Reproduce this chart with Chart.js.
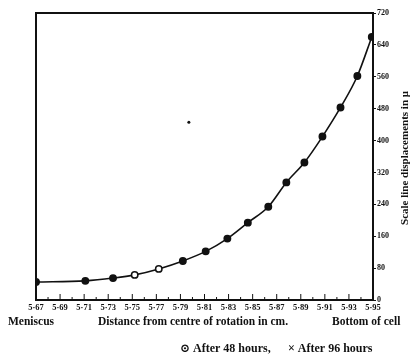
<!DOCTYPE html>
<html>
<head>
<meta charset="utf-8">
<script src="https://cdn.jsdelivr.net/npm/chart.js@4/dist/chart.umd.min.js"></script>
<style>
  html, body { margin: 0; padding: 0; background: #fff; }
  #wrap { position: relative; width: 416px; height: 355px; }
</style>
</head>
<body>
<div id="wrap"><canvas id="chart" width="416" height="355"></canvas></div>
<script>
// distance from centre of rotation (cm) and scale line displacement (microns)
const distances = [5.670, 5.711, 5.734, 5.752, 5.772, 5.792, 5.811, 5.829, 5.846, 5.863, 5.878, 5.893, 5.908, 5.923, 5.937, 5.949];
const displacements = [45, 48, 55, 63, 78, 98, 122, 154, 194, 234, 295, 345, 410, 483, 562, 660];
// which readings are marked as open circles (48 h)
const openMarks = [false, false, false, true, true, false, false, false, false, false, false, false, false, false, false, false];
// stray speck on the plate
const speckX = [5.797];
const speckY = [446];

const yTicks = [0, 80, 160, 240, 320, 400, 480, 560, 640, 720];

const serif = "'Liberation Serif', 'DejaVu Serif', serif";

const framePlugin = {
  id: "frame",
  afterDraw(chart) {
    const ctx = chart.ctx;
    const a = chart.chartArea;
    const xs = chart.scales.x;
    ctx.save();
    ctx.strokeStyle = "#111";
    ctx.lineWidth = 2;
    ctx.strokeRect(a.left, a.top, a.right - a.left, a.bottom - a.top);
    // inward ticks on distance axis
    ctx.lineWidth = 1;
    xs.ticks.forEach(function (t) {
      const px = xs.getPixelForValue(t.value);
      const big = Math.round(t.value * 100) % 2 === 1;
      ctx.beginPath();
      ctx.moveTo(px, a.bottom);
      ctx.lineTo(px, a.bottom - (big ? 6 : 3));
      ctx.stroke();
    });
    ctx.fillStyle = "#111";
    ctx.font = "bold 11.5px " + serif;
    ctx.textBaseline = "middle";
    ctx.textAlign = "left";
    ctx.fillText("Meniscus", 8, 322);
    ctx.fillText("Distance from centre of rotation in cm.", 98, 322);
    ctx.fillText("Bottom of cell", 332, 322);
    ctx.font = "bold 12px " + serif;
    ctx.fillText("\u2299 After 48 hours,", 180, 349);
    ctx.fillText("\u00d7 After 96 hours", 288, 349);
    // right-hand axis title
    ctx.font = "bold 11px " + serif;
    ctx.translate(405, 158);
    ctx.rotate(-Math.PI / 2);
    ctx.textAlign = "center";
    ctx.fillText("Scale line displacements in \u03bc", 0, 0);
    ctx.restore();
  }
};

new Chart(document.getElementById("chart"), {
  type: "line",
  data: {
    datasets: [
      {
        label: "readings",
        data: distances.map(function (d, i) { return { x: d, y: displacements[i] }; }),
        borderColor: "#111",
        borderWidth: 1.6,
        tension: 0.4,
        cubicInterpolationMode: "monotone",
        pointRadius: 3.2,
        pointBorderWidth: 1.5,
        pointBorderColor: "#111",
        pointBackgroundColor: openMarks.map(function (o) { return o ? "#fff" : "#111"; }),
      },
      {
        label: "speck",
        data: speckX.map(function (d, i) { return { x: d, y: speckY[i] }; }),
        showLine: false,
        pointRadius: 1.5,
        pointBackgroundColor: "#111",
        pointBorderWidth: 0,
      },
    ],
  },
  options: {
    responsive: false,
    animation: false,
    layout: { padding: { left: 36, top: 13, right: 0, bottom: 0 } },
    plugins: { legend: { display: false }, tooltip: { enabled: false } },
    scales: {
      x: {
        type: "linear",
        min: 5.67,
        max: 5.95,
        afterFit: function (s) { s.height = 55; },
        border: { display: false },
        grid: { display: false, drawTicks: false },
        ticks: {
          stepSize: 0.01,
          autoSkip: false,
          maxRotation: 0,
          padding: 3,
          color: "#111",
          font: { family: serif, size: 8.5, weight: "bold" },
          callback: function (v) {
            const h = Math.round(v * 100);
            return h % 2 === 1 ? (v.toFixed(2).replace(".", "\u00b7")) : "";
          },
        },
      },
      y: {
        position: "right",
        min: 0,
        max: 720,
        afterFit: function (s) { s.width = 43; },
        afterBuildTicks: function (s) { s.ticks = yTicks.map(function (v) { return { value: v }; }); },
        border: { display: false },
        grid: { drawOnChartArea: false, tickLength: 3, color: "#111" },
        ticks: {
          padding: 1,
          color: "#111",
          font: { family: serif, size: 8, weight: "bold" },
        },
      },
    },
  },
  plugins: [framePlugin],
});
</script>
</body>
</html>
